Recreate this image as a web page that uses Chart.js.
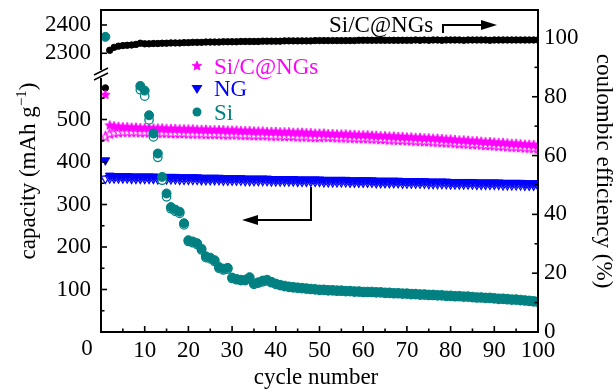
<!DOCTYPE html>
<html lang="en">
<head>
<meta charset="UTF-8">
<title>Cycling performance</title>
<script src="https://cdn.jsdelivr.net/npm/chart.js"></script>
<style>
  html, body { margin: 0; padding: 0; background: #fff; }
  #wrap { width: 616px; height: 391px; }
</style>
</head>
<body>
<div id="wrap"><canvas id="cycleChart"></canvas></div>
<script>
// cycle index 1..100
const cycles = Array.from({ length: 100 }, (_, i) => i + 1);

// Si/C@NGs discharge (filled star) / charge (open star), mAh g-1
const sicDischarge = [
  558, 486, 484, 483, 482, 482, 481, 481, 480, 480,
  480, 479, 479, 479, 478, 478, 478, 477, 477, 477,
  477, 476, 476, 476, 475, 475, 475, 475, 474, 474,
  474, 473, 473, 473, 472, 472, 472, 471, 471, 471,
  470, 470, 470, 469, 469, 469, 468, 468, 467, 467,
  467, 466, 466, 465, 465, 465, 464, 464, 463, 463,
  463, 462, 462, 461, 461, 460, 460, 459, 459, 458,
  458, 457, 457, 456, 456, 455, 455, 454, 453, 453,
  452, 451, 451, 450, 449, 449, 448, 447, 447, 446,
  445, 445, 444, 443, 443, 442, 441, 441, 440, 439
];
const sicCharge = [
  459, 466, 468, 469, 470, 470, 470, 470, 469, 469,
  469, 469, 468, 468, 468, 467, 467, 467, 467, 466,
  466, 466, 466, 465, 465, 465, 465, 464, 464, 464,
  464, 463, 463, 463, 462, 462, 462, 462, 461, 461,
  461, 460, 460, 460, 459, 459, 459, 458, 458, 458,
  459, 458, 458, 457, 457, 457, 456, 456, 455, 455,
  455, 454, 454, 453, 453, 452, 452, 451, 451, 450,
  450, 449, 449, 448, 448, 447, 447, 446, 445, 445,
  444, 443, 443, 442, 441, 441, 440, 439, 439, 438,
  437, 437, 436, 435, 435, 434, 433, 433, 432, 431
];

// NG discharge (filled triangle) / charge (open triangle)
const ngDischarge = [
  404, 368, 367, 367, 367, 367, 366, 366, 366, 366,
  366, 366, 365, 365, 365, 365, 365, 364, 364, 364,
  364, 364, 363, 363, 363, 363, 363, 362, 362, 362,
  362, 362, 361, 361, 361, 361, 361, 361, 360, 360,
  360, 360, 360, 360, 359, 359, 359, 359, 359, 359,
  358, 358, 358, 358, 358, 358, 357, 357, 357, 357,
  357, 357, 356, 356, 356, 356, 356, 356, 355, 355,
  355, 355, 355, 355, 354, 354, 354, 354, 354, 353,
  353, 353, 353, 353, 353, 352, 352, 352, 352, 352,
  352, 351, 351, 351, 351, 351, 350, 350, 350, 350
];
const ngCharge = [
  361, 362, 362, 362, 362, 362, 361, 361, 361, 361,
  361, 361, 360, 360, 360, 360, 360, 359, 359, 359,
  359, 359, 358, 358, 358, 358, 358, 357, 357, 357,
  357, 357, 356, 356, 356, 356, 356, 356, 355, 355,
  355, 355, 355, 355, 354, 354, 354, 354, 354, 354,
  353, 353, 353, 353, 353, 353, 352, 352, 352, 352,
  352, 352, 351, 351, 351, 351, 351, 351, 350, 350,
  350, 350, 350, 350, 349, 349, 349, 349, 349, 348,
  348, 348, 348, 348, 348, 347, 347, 347, 347, 347,
  347, 346, 346, 346, 346, 346, 345, 345, 345, 345
];

// Si discharge (filled circle) / charge (open circle); null = inside the axis break
const siDischarge = [
  2358, null, null, null, null, null, null, null, 579, 568,
  510, 467, 420, 365, 326, 294, 288, 283, 256, 216,
  213, 209, 196, 178, 175, 169, 153, 149, 151, 128,
  125, 123, 123, 129, 114, 117, 121, 123, 118, 114,
  111, 109, 107, 106, 105, 104, 103, 102, 101, 100,
  100, 99, 99, 98, 98, 97, 97, 96, 96, 95,
  95, 95, 94, 94, 93, 93, 92, 92, 91, 91,
  90, 90, 89, 89, 88, 88, 87, 87, 86, 86,
  85, 85, 84, 84, 83, 82, 82, 81, 81, 80,
  79, 79, 78, 77, 77, 76, 75, 74, 73, 72
];
const siCharge = [
  null, null, null, null, null, null, null, null, 570, 555,
  499, 459, 411, 357, 318, 290, 284, 279, 252, 213,
  210, 206, 193, 175, 172, 166, 150, 146, 148, 126,
  123, 121, 121, 126, 112, 115, 118, 120, 116, 112,
  109, 107, 105, 104, 103, 102, 101, 100, 99, 98,
  98, 97, 97, 96, 96, 95, 95, 94, 94, 93,
  93, 93, 92, 92, 91, 91, 90, 90, 89, 89,
  88, 88, 87, 87, 86, 86, 85, 85, 84, 84,
  83, 83, 82, 82, 81, 80, 80, 79, 79, 78,
  77, 77, 76, 75, 75, 74, 73, 72, 71, 70
];

// Si/C@NGs coulombic efficiency, %
const sicEfficiency = [
  83.0, 95.8, 96.8, 97.2, 97.4, 97.5, 97.6, 97.8, 98.2, 98.0,
  98.0, 98.1, 98.1, 98.2, 98.2, 98.3, 98.3, 98.3, 98.4, 98.4,
  98.5, 98.5, 98.5, 98.6, 98.6, 98.6, 98.6, 98.7, 98.7, 98.7,
  98.7, 98.8, 98.8, 98.8, 98.8, 98.8, 98.9, 98.9, 98.9, 98.9,
  98.9, 99.0, 99.0, 99.0, 99.0, 99.0, 99.0, 99.0, 99.1, 99.1,
  99.1, 99.1, 99.1, 99.1, 99.1, 99.1, 99.1, 99.1, 99.2, 99.2,
  99.2, 99.2, 99.2, 99.2, 99.2, 99.2, 99.2, 99.2, 99.2, 99.2,
  99.2, 99.3, 99.2, 99.3, 99.2, 99.3, 99.3, 99.2, 99.3, 99.3,
  99.3, 99.3, 99.2, 99.3, 99.3, 99.3, 99.3, 99.3, 99.2, 99.3,
  99.3, 99.3, 99.3, 99.3, 99.3, 99.3, 99.3, 99.3, 99.3, 99.3
];

// tick labels
const xTicks = [0, 10, 20, 30, 40, 50, 60, 70, 80, 90, 100];
const xMinor = [5, 15, 25, 35, 45, 55, 65, 75, 85, 95];
const capTicksLow = [100, 200, 300, 400, 500];
const capMinorLow = [50, 150, 250, 350, 450, 550];
const capTicksHigh = [2300, 2400];
const ceTicks = [0, 20, 40, 60, 80, 100];
const ceMinor = [10, 30, 50, 70, 90];

const MAGENTA = '#ff00ff', BLUE = '#0000ff', TEAL = '#008080';
const SERIF = '"Liberation Serif", "DejaVu Serif", serif';
Chart.defaults.font.family = SERIF;
Chart.defaults.color = '#000';

function starImage(fill, stroke, r, lw) {
  const c = document.createElement('canvas');
  const s = Math.ceil(2 * r + 2 * lw + 2);
  c.width = c.height = s;
  const g = c.getContext('2d');
  g.beginPath();
  for (let i = 0; i < 10; i++) {
    const rr = i % 2 ? r * 0.45 : r;
    const ang = -Math.PI / 2 + i * Math.PI / 5;
    g.lineTo(s / 2 + rr * Math.cos(ang), s / 2 + rr * Math.sin(ang));
  }
  g.closePath();
  g.fillStyle = fill; g.fill();
  g.lineWidth = lw; g.strokeStyle = stroke; g.stroke();
  return c;
}
const starFilled = starImage(MAGENTA, MAGENTA, 5, 0.8);
const starOpen = starImage('#fff', MAGENTA, 5, 1.1);

function pts(arr, keep) {
  const out = [];
  arr.forEach((v, i) => { if (v !== null && keep(v)) out.push({ x: cycles[i], y: v }); });
  return out;
}
const low = v => v <= 600;
const high = v => v > 600;
const all = () => true;

function fixTicks(list) {
  return scale => { scale.ticks = list.map(v => ({ value: v })); };
}
// keep the plot box fixed: no automatic label padding
function fitV(width) {
  return s => { s.width = width; s.paddingTop = 0; s.paddingBottom = 0; };
}
function fitH(height) {
  return s => { s.height = height; s.paddingLeft = 0; s.paddingRight = 0; };
}

const tickFont = { size: 23 };
const plain = v => String(v);

const deco = {
  id: 'deco',
  afterDraw(chart) {
    const { ctx, chartArea: a, scales } = chart;
    const sx = scales.x, yl = scales.yBot, yh = scales.yTop, yr = scales.yCE;
    const line = (x1, y1, x2, y2) => { ctx.beginPath(); ctx.moveTo(x1, y1); ctx.lineTo(x2, y2); ctx.stroke(); };
    ctx.save();
    ctx.strokeStyle = '#000';
    ctx.lineWidth = 1.6;
    xTicks.forEach(v => { const p = sx.getPixelForValue(v); line(p, a.bottom, p, a.bottom - 6); });
    xMinor.forEach(v => { const p = sx.getPixelForValue(v); line(p, a.bottom, p, a.bottom - 3.5); });
    capTicksLow.forEach(v => { const p = yl.getPixelForValue(v); line(a.left, p, a.left + 6, p); });
    capMinorLow.forEach(v => { const p = yl.getPixelForValue(v); line(a.left, p, a.left + 3.5, p); });
    capTicksHigh.forEach(v => { const p = yh.getPixelForValue(v); line(a.left, p, a.left + 6, p); });
    ceTicks.forEach(v => { const p = yr.getPixelForValue(v); line(a.right, p, a.right - 6, p); });
    ceMinor.forEach(v => { const p = yr.getPixelForValue(v); line(a.right, p, a.right - 3.5, p); });

    // frame
    ctx.lineWidth = 2;
    ctx.strokeRect(a.left, a.top, a.right - a.left, a.bottom - a.top);

    // axis break
    ctx.fillStyle = '#fff';
    ctx.fillRect(a.left - 2, 70, 4, 8);
    ctx.lineWidth = 1.5;
    line(94, 75, 108, 68);
    line(94, 80, 108, 73);

    // arrows
    ctx.lineWidth = 2;
    ctx.beginPath(); ctx.moveTo(443, 33); ctx.lineTo(443, 25); ctx.lineTo(484, 25); ctx.stroke();
    ctx.fillStyle = '#000';
    ctx.beginPath(); ctx.moveTo(497, 25); ctx.lineTo(481, 20); ctx.lineTo(481, 30); ctx.closePath(); ctx.fill();
    ctx.beginPath(); ctx.moveTo(311, 187); ctx.lineTo(311, 220); ctx.lineTo(254, 220); ctx.stroke();
    ctx.beginPath(); ctx.moveTo(242, 220); ctx.lineTo(258, 215); ctx.lineTo(258, 225); ctx.closePath(); ctx.fill();

    // annotation + legend
    ctx.font = '23px ' + SERIF;
    ctx.textBaseline = 'alphabetic';
    ctx.textAlign = 'left';
    ctx.fillStyle = '#000';
    ctx.fillText('Si/C@NGs', 329, 32);
    ctx.drawImage(starFilled, 197 - starFilled.width / 2, 66 - starFilled.height / 2);
    ctx.fillStyle = BLUE;
    ctx.beginPath(); ctx.moveTo(191.5, 85); ctx.lineTo(202.5, 85); ctx.lineTo(197, 94); ctx.closePath(); ctx.fill();
    ctx.fillStyle = TEAL;
    ctx.beginPath(); ctx.arc(197, 112, 4.5, 0, Math.PI * 2); ctx.fill();
    ctx.fillStyle = MAGENTA; ctx.fillText('Si/C@NGs', 214, 74);
    ctx.fillStyle = BLUE; ctx.fillText('NG', 214, 96);
    ctx.fillStyle = TEAL; ctx.fillText('Si', 214, 120);

    // x tick "0" sits left of the corner in the original
    ctx.fillStyle = '#000';
    ctx.textAlign = 'center';
    ctx.textBaseline = 'top';
    ctx.fillText('0', 87, sx.top + 5);
    ctx.textBaseline = 'alphabetic';

    // axis titles
    ctx.fillText('cycle number', 316, 384);

    ctx.save();
    ctx.translate(597, 171);
    ctx.rotate(Math.PI / 2);
    ctx.fillText('coulombic efficiency (%)', 0, 0);
    ctx.restore();

    ctx.save();
    ctx.translate(35, 171);
    ctx.rotate(-Math.PI / 2);
    ctx.textAlign = 'left';
    const main = 'capacity (mAh g', sup = '\u22121', tail = ')';
    ctx.font = '23px ' + SERIF;
    const w1 = ctx.measureText(main).width, w3 = ctx.measureText(tail).width;
    ctx.font = '15px ' + SERIF;
    const w2 = ctx.measureText(sup).width;
    let px = -(w1 + w2 + w3) / 2;
    ctx.font = '23px ' + SERIF;
    ctx.fillText(main, px, 0); px += w1;
    ctx.font = '15px ' + SERIF;
    ctx.fillText(sup, px, -9); px += w2;
    ctx.font = '23px ' + SERIF;
    ctx.fillText(tail, px, 0);
    ctx.restore();

    ctx.restore();
  }
};

new Chart(document.getElementById('cycleChart'), {
  type: 'scatter',
  data: {
    datasets: [
      { label: 'Si', data: pts(siDischarge, low), yAxisID: 'yBot',
        pointStyle: 'circle', pointRadius: 4.5, backgroundColor: TEAL, borderColor: TEAL, borderWidth: 1 },
      { label: 'Si first', data: pts(siDischarge, high), yAxisID: 'yTop',
        pointStyle: 'circle', pointRadius: 4.5, backgroundColor: TEAL, borderColor: TEAL, borderWidth: 1 },
      { label: 'Si charge', data: pts(siCharge, low), yAxisID: 'yBot',
        pointStyle: 'circle', pointRadius: 4.2, backgroundColor: '#fff', borderColor: TEAL, borderWidth: 1.3 },
      { label: 'Si/C@NGs', data: pts(sicDischarge, all), yAxisID: 'yBot',
        pointStyle: starFilled, pointRadius: 5 },
      { label: 'Si/C@NGs charge', data: pts(sicCharge, all), yAxisID: 'yBot',
        pointStyle: starOpen, pointRadius: 5 },
      { label: 'NG', data: pts(ngDischarge, all), yAxisID: 'yBot',
        pointStyle: 'triangle', rotation: 180, pointRadius: 5, backgroundColor: BLUE, borderColor: BLUE, borderWidth: 1 },
      { label: 'NG charge', data: pts(ngCharge, all), yAxisID: 'yBot',
        pointStyle: 'triangle', rotation: 180, pointRadius: 5, backgroundColor: '#fff', borderColor: BLUE, borderWidth: 1.2 },
      { label: 'CE', data: pts(sicEfficiency, all), yAxisID: 'yCE',
        pointStyle: 'circle', pointRadius: 3.2, backgroundColor: '#000', borderColor: '#000', borderWidth: 1 }
    ]
  },
  options: {
    responsive: true,
    maintainAspectRatio: false,
    animation: false,
    events: [],
    layout: { padding: { top: 10, left: 0, right: 0, bottom: 0 } },
    plugins: { legend: { display: false }, tooltip: { enabled: false } },
    scales: {
      x: {
        type: 'linear', min: 0, max: 100,
        grid: { display: false, drawTicks: false }, border: { display: false },
        ticks: { padding: 5, font: tickFont, autoSkip: false, maxRotation: 0,
                 callback: v => (v === 0 ? '' : String(v)) },
        afterBuildTicks: fixTicks(xTicks),
        afterFit: fitH(59)
      },
      yBot: {
        type: 'linear', position: 'left', stack: 'cap', stackWeight: 255, min: 0, max: 600,
        grid: { display: false, drawTicks: false }, border: { display: false },
        ticks: { padding: 10, font: tickFont, autoSkip: false, callback: plain },
        afterBuildTicks: fixTicks(capTicksLow),
        afterFit: fitV(101)
      },
      yTop: {
        type: 'linear', position: 'left', stack: 'cap', stackWeight: 67, min: 2216, max: 2453,
        grid: { display: false, drawTicks: false }, border: { display: false },
        ticks: { padding: 10, font: tickFont, autoSkip: false, callback: plain },
        afterBuildTicks: fixTicks(capTicksHigh),
        afterFit: fitV(101)
      },
      yCE: {
        type: 'linear', position: 'right', min: 0, max: 109.5,
        grid: { display: false, drawTicks: false }, border: { display: false },
        ticks: { padding: 6, font: tickFont, autoSkip: false, callback: plain },
        afterBuildTicks: fixTicks(ceTicks),
        afterFit: fitV(78)
      }
    }
  },
  plugins: [deco]
});
</script>
</body>
</html>
